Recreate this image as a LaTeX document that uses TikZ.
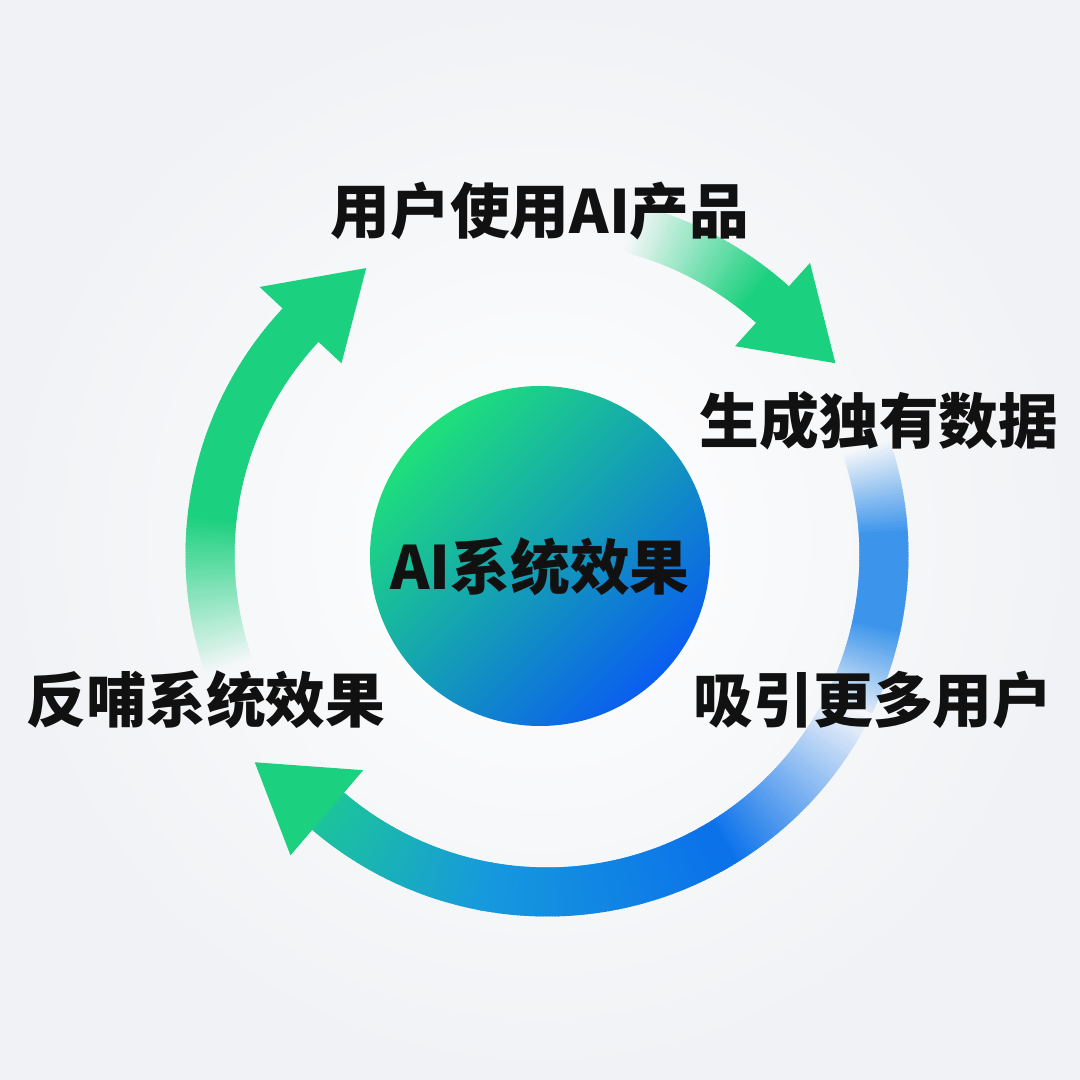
\documentclass[tikz,border=0pt]{standalone}
\usepackage{fontspec}
\setmainfont{Noto Sans CJK SC}
\usetikzlibrary{calc}
\definecolor{bgpage}{HTML}{F6F7F9}
\definecolor{bgedge}{HTML}{F0F2F5}
\definecolor{ringgreen}{HTML}{1BD07E}
\definecolor{ringblue}{HTML}{0B72EA}
\definecolor{ringazure}{HTML}{1699DD}
\definecolor{ringteal}{HTML}{1CC39C}
\definecolor{rightblue}{HTML}{3D95EB}
\definecolor{coregreen}{HTML}{1EE07A}
\definecolor{coreteal}{HTML}{1ABDA6}
\definecolor{coreblue}{HTML}{0A5EF0}
\definecolor{ink}{HTML}{111111}

\begin{document}
\begin{tikzpicture}[
	labeltext/.style={font=\fontsize{17}{20}\selectfont\bfseries, text=ink, inner sep=0pt},
	ring/.style={line width=4.9mm}
	]

	\useasboundingbox (0,0) rectangle (10.8,10.8);
	\shade[inner color=white, outer color=bgedge] (0,0) rectangle (10.8,10.8);
	\coordinate (hub) at (5.47,5.25);

	% user -> data
	\foreach \a [evaluate=\a as \p using {int(min(100,max(0,(76-\a)*100/24)))}] in {76,75.5,...,48}
		\draw[ring, ringgreen!\p!bgpage] (hub) ++(\a:3.37) arc[start angle=\a, delta angle=-0.8, radius=3.37];
	\fill[ringgreen] ($(hub)+(48:3.93)$) -- ($(hub)+(48:2.81)$) -- ($(hub)+(48:3.37)+(-43:0.86)$) -- cycle;

	% data -> users
	\foreach \a [evaluate=\a as \p using {int(max(0,min(100,(19-\a)*100/15,(\a+28)*100/16)))}] in {19,18.5,...,-28}
		\draw[ring, rightblue!\p!bgpage] (hub) ++(\a:3.37) arc[start angle=\a, delta angle=-0.8, radius=3.37];

	% users -> feedback
	\foreach \a [evaluate=\a as \p using {int(min(100,max(0,(-26-\a)*100/32)))}] in {-26,-26.5,...,-60}
		\draw[ring, ringblue!\p!bgpage] (hub) ++(\a:3.37) arc[start angle=\a, delta angle=-0.8, radius=3.37];
	\foreach \a [evaluate=\a as \p using {int(min(100,max(0,(-60-\a)*100/40)))}] in {-60,-60.5,...,-100}
		\draw[ring, ringazure!\p!ringblue] (hub) ++(\a:3.37) arc[start angle=\a, delta angle=-0.8, radius=3.37];
	\foreach \a [evaluate=\a as \p using {int(min(100,max(0,(-100-\a)*100/30)))}] in {-100,-100.5,...,-130}
		\draw[ring, ringteal!\p!ringazure] (hub) ++(\a:3.37) arc[start angle=\a, delta angle=-0.8, radius=3.37];
	\fill[ringgreen] ($(hub)+(229.5:3.95)$) -- ($(hub)+(229.5:2.83)$) -- ($(hub)+(229.5:3.39)+(145:0.88)$) -- cycle;

	% feedback -> user
	\foreach \a [evaluate=\a as \p using {int(min(100,max(0,(200-\a)*100/26)))}] in {200,199.5,...,137}
		\draw[ring, ringgreen!\p!bgpage] (hub) ++(\a:3.37) arc[start angle=\a, delta angle=-0.8, radius=3.37];
	\fill[ringgreen] ($(hub)+(137:3.93)$) -- ($(hub)+(137:2.81)$) -- ($(hub)+(137:3.37)+(41:0.87)$) -- cycle;

	\node[circle, minimum size=3.4cm, inner sep=0pt, top color=coregreen, middle color=coreteal, bottom color=coreblue, shading angle=45] (core) at (5.40,5.24) {};
	\node[labeltext] (effect) at ([yshift=-1.1mm]core.center) {AI系统效果};

	\node[labeltext] (use) at (5.40,8.69) {用户使用AI产品};
	\node[labeltext] (data) at (8.79,6.59) {生成独有数据};
	\node[labeltext] (attract) at (8.73,3.80) {吸引更多用户};
	\node[labeltext] (feedback) at (2.06,3.80) {反哺系统效果};

\end{tikzpicture}
\end{document}
